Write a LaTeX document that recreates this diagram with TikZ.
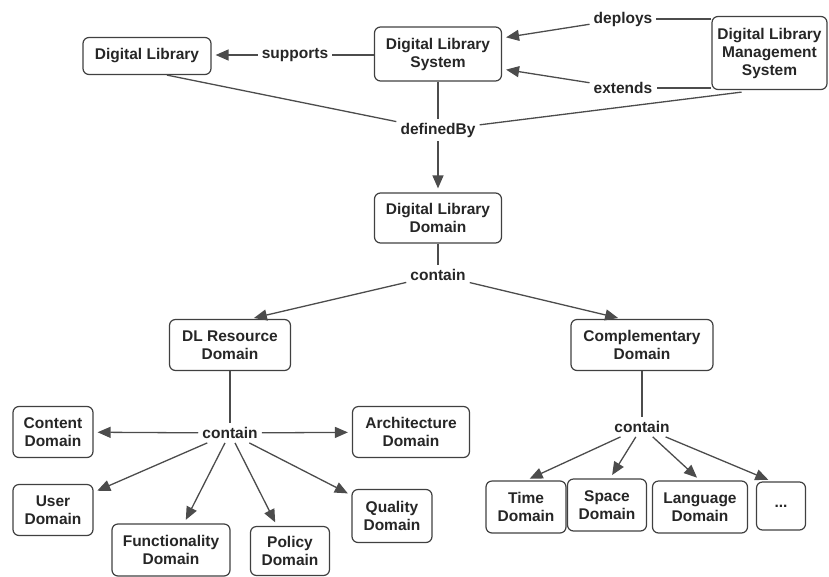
\documentclass[tikz,border=0pt]{standalone}
\usepackage{fontspec}
\setmainfont{Liberation Sans}
\usetikzlibrary{arrows.meta}

\begin{document}
\begin{tikzpicture}[x=1pt,y=-1pt,
  txt/.style={font=\bfseries\fontsize{15.5}{18}\selectfont, text=black!85},
  box/.style={txt, draw=black!75, line width=1.2pt, rounded corners=6pt,
    align=center, inner sep=0pt},
  lbl/.style={txt, inner sep=4pt},
  link/.style={draw=black!70, line width=1.3pt},
  arr/.style={link, -{Triangle[length=13pt,width=11pt]}, shorten >=4pt}]
\useasboundingbox (0,0) rectangle (829,576);

% concept boxes
\node[box, minimum width=128pt, minimum height=37pt] (dl)   at (147,56)  {Digital Library};
\node[box, minimum width=127pt, minimum height=54pt] (dls)  at (438,54)  {Digital Library\\System};
\node[box, minimum width=115pt, minimum height=73pt] (dlms) at (769.5,53) {Digital Library\\Management\\System};
\node[box, minimum width=127pt, minimum height=50pt] (dld)  at (438,218) {Digital Library\\Domain};
\node[box, minimum width=121pt, minimum height=51pt] (dlrd) at (230,345) {DL Resource\\Domain};
\node[box, minimum width=142pt, minimum height=51pt] (cd)   at (642,345) {Complementary\\Domain};
\node[box, minimum width=80pt,  minimum height=51pt] (cont) at (53,432)  {Content\\Domain};
\node[box, minimum width=117pt, minimum height=51pt] (arch) at (411,432) {Architecture\\Domain};
\node[box, minimum width=80pt,  minimum height=51pt] (user) at (53,510)  {User\\Domain};
\node[box, minimum width=118pt, minimum height=52pt] (func) at (171,550) {Functionality\\Domain};
\node[box, minimum width=79pt,  minimum height=49pt] (pol)  at (290,551) {Policy\\Domain};
\node[box, minimum width=80pt,  minimum height=53pt] (qual) at (392,516) {Quality\\Domain};
\node[box, minimum width=80pt,  minimum height=52pt] (time) at (526,507) {Time\\Domain};
\node[box, minimum width=79pt,  minimum height=52pt] (spc)  at (607,505) {Space\\Domain};
\node[box, minimum width=95pt,  minimum height=52pt] (lang) at (700,507) {Language\\Domain};
\node[box, minimum width=49pt,  minimum height=48pt] (more) at (781,506) {...};

% relation labels
\node[lbl] (sup) at (295,55)  {supports};
\node[lbl] (dep) at (623,19)  {deploys};
\node[lbl] (ext) at (623,88)  {extends};
\node[lbl] (def) at (438,130) {definedBy};
\node[lbl] (c1)  at (438,275) {contain};
\node[lbl] (c2)  at (230,433) {contain};
\node[lbl] (c3)  at (642,427) {contain};

% supports / deploys / extends
\draw[link] (dls.west |- sup) -- (sup);
\draw[arr]  (sup) -- (dl.east |- sup);
\draw[link] (dlms.west |- dep) -- (dep);
\draw[arr]  (dep) -- ([yshift=16pt]dls.east);
\draw[link] (dlms.west |- ext) -- (ext);
\draw[arr]  (ext) -- ([yshift=-15pt]dls.east);

% definedBy
\draw[link] ([xshift=20pt]dl.south) -- (def);
\draw[link] ([xshift=-28pt,yshift=-2pt]dlms.south) -- (def);
\draw[link] (dls) -- (def);
\draw[arr]  (def) -- (dld);

% top-level contain
\draw[link] (dld) -- (c1);
\draw[arr]  (c1) -- ([xshift=20pt]dlrd.north);
\draw[arr]  (c1) -- ([xshift=-20pt]cd.north);

% resource domains
\draw[link] (dlrd) -- (c2);
\draw[arr]  (c2) -- (cont);
\draw[arr]  (c2) -- (arch);
\draw[arr]  (c2) -- (user);
\draw[arr]  (c2) -- ([xshift=13pt]func.north);
\draw[arr]  (c2) -- ([xshift=-13pt]pol.north);
\draw[arr]  (c2) -- (qual);

% complementary domains
\draw[link] (cd) -- (c3);
\draw[arr]  (c3) -- (time.north);
\draw[arr]  (c3) -- ([xshift=3pt]spc.north);
\draw[arr]  (c3) -- (lang.north);
\draw[arr]  (c3) -- ([xshift=-9pt]more.north);
\end{tikzpicture}
\end{document}
